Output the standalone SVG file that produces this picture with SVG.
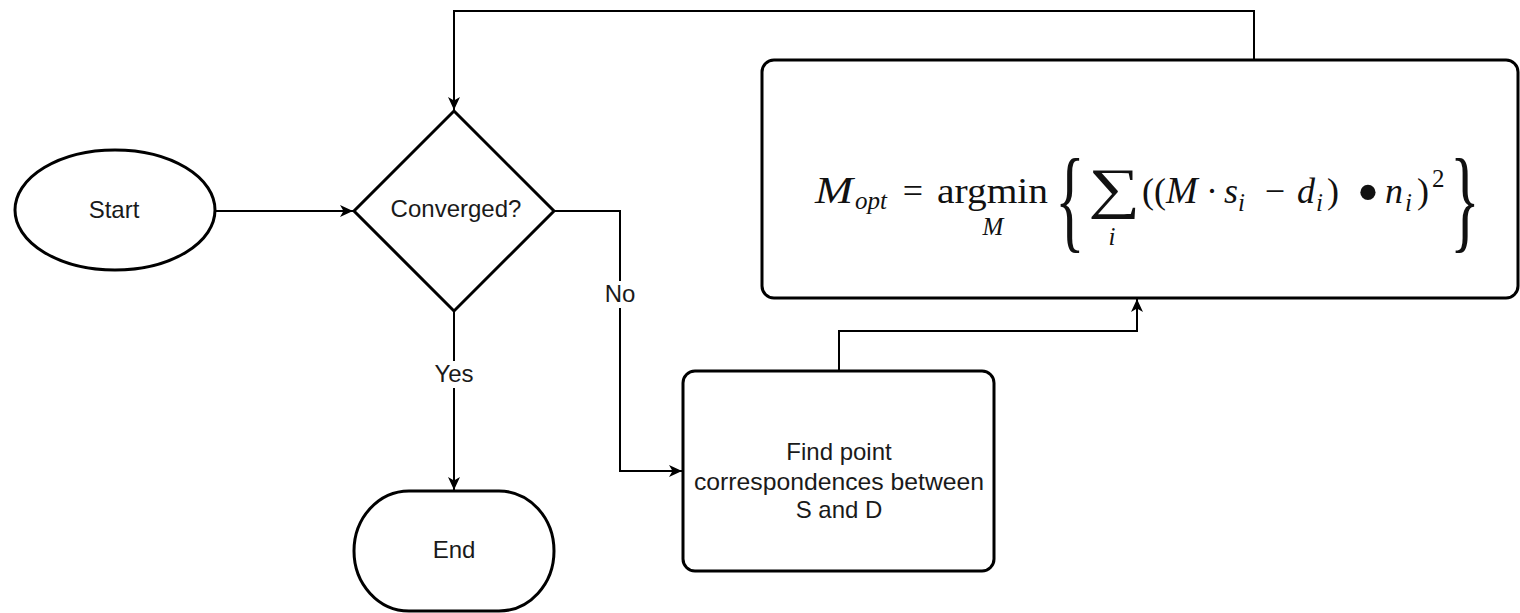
<svg xmlns="http://www.w3.org/2000/svg" width="1520" height="613" viewBox="0 0 1520 613">
<defs>
<marker id="arr" markerUnits="userSpaceOnUse" markerWidth="14" markerHeight="12" refX="13" refY="6" orient="auto">
<path d="M0,0 L13,6 L0,12 L3.5,6 Z" fill="#000"/>
</marker>
<style>
.shape{fill:#fff;stroke:#000;stroke-width:3}
.edge{fill:none;stroke:#000;stroke-width:2}
.lbl{font-family:"Liberation Sans",Arial,sans-serif;font-size:24px;fill:#1a1a1a;text-anchor:middle}
.m{font-family:"Liberation Serif","Times New Roman",serif;fill:#111}
.it{font-style:italic}
</style>
</defs>
<rect width="1520" height="613" fill="#fff"/>
<g id="connectors">
<path class="edge" d="M215,211 H353" marker-end="url(#arr)"/>
<path class="edge" d="M1254,60 V11 H454 V110" marker-end="url(#arr)"/>
<path class="edge" d="M554,211 H620 V471 H682" marker-end="url(#arr)"/>
<path class="edge" d="M454,311 V490" marker-end="url(#arr)"/>
<path class="edge" d="M839,371 V331 H1137 V299" marker-end="url(#arr)"/>
<rect x="603" y="281" width="34" height="27" fill="#fff"/>
<text class="lbl" x="620" y="302">No</text>
<rect x="431" y="361" width="46" height="27" fill="#fff"/>
<text class="lbl" x="454" y="382">Yes</text>
</g>
<g id="start">
<ellipse class="shape" cx="115" cy="210" rx="100" ry="60"/>
<text class="lbl" x="114" y="218">Start</text>
</g>
<g id="converged">
<polygon class="shape" points="454,111 554,211 454,311 354,211"/>
<text class="lbl" x="456" y="217">Converged?</text>
</g>
<g id="end">
<rect class="shape" x="354" y="491" width="200" height="120" rx="55" ry="60"/>
<text class="lbl" x="454" y="558">End</text>
</g>
<g id="find">
<rect class="shape" x="683" y="371" width="311" height="200" rx="12" ry="12"/>
<text class="lbl" x="839" y="460">Find point</text>
<text class="lbl" x="839" y="490" textLength="290" lengthAdjust="spacingAndGlyphs">correspondences between</text>
<text class="lbl" x="839" y="518">S and D</text>
</g>
<g id="formula">
<rect class="shape" x="762" y="60" width="756" height="238" rx="12" ry="12"/>
<text class="m it" x="815" y="203" font-size="38" textLength="38" lengthAdjust="spacingAndGlyphs">M</text>
<text class="m it" x="855" y="209" font-size="25">opt</text>
<text class="m" x="913" y="203" font-size="36" text-anchor="middle">=</text>
<text class="m" x="937" y="203" font-size="36" textLength="111" lengthAdjust="spacingAndGlyphs">argmin</text>
<text class="m it" x="993" y="235" font-size="25" text-anchor="middle">M</text>
<text class="m" x="0" y="0" font-size="62" transform="translate(1055,238) scale(1,1.85)">{</text>
<text class="m" x="1088" y="207" font-size="56" textLength="52" lengthAdjust="spacingAndGlyphs">∑</text>
<text class="m it" x="1112" y="245" font-size="25" text-anchor="middle">i</text>
<text class="m" x="1142" y="203" font-size="36">((</text>
<text class="m it" x="1166" y="203" font-size="38">M</text>
<text class="m" x="1212" y="203" font-size="36" text-anchor="middle">·</text>
<text class="m it" x="1224" y="203" font-size="36">s</text>
<text class="m it" x="1238" y="211" font-size="25">i</text>
<text class="m" x="1275" y="203" font-size="36" text-anchor="middle">−</text>
<text class="m it" x="1297" y="203" font-size="36">d</text>
<text class="m it" x="1316" y="211" font-size="25">i</text>
<text class="m" x="1327" y="203" font-size="36">)</text>
<text class="m" x="1368" y="214" font-size="64" text-anchor="middle">•</text>
<text class="m it" x="1385" y="203" font-size="36">n</text>
<text class="m it" x="1405" y="211" font-size="25">i</text>
<text class="m" x="1417" y="203" font-size="36">)</text>
<text class="m" x="1432" y="187" font-size="25">2</text>
<text class="m" x="0" y="0" font-size="62" transform="translate(1450,238) scale(1,1.85)">}</text>
</g>
</svg>
